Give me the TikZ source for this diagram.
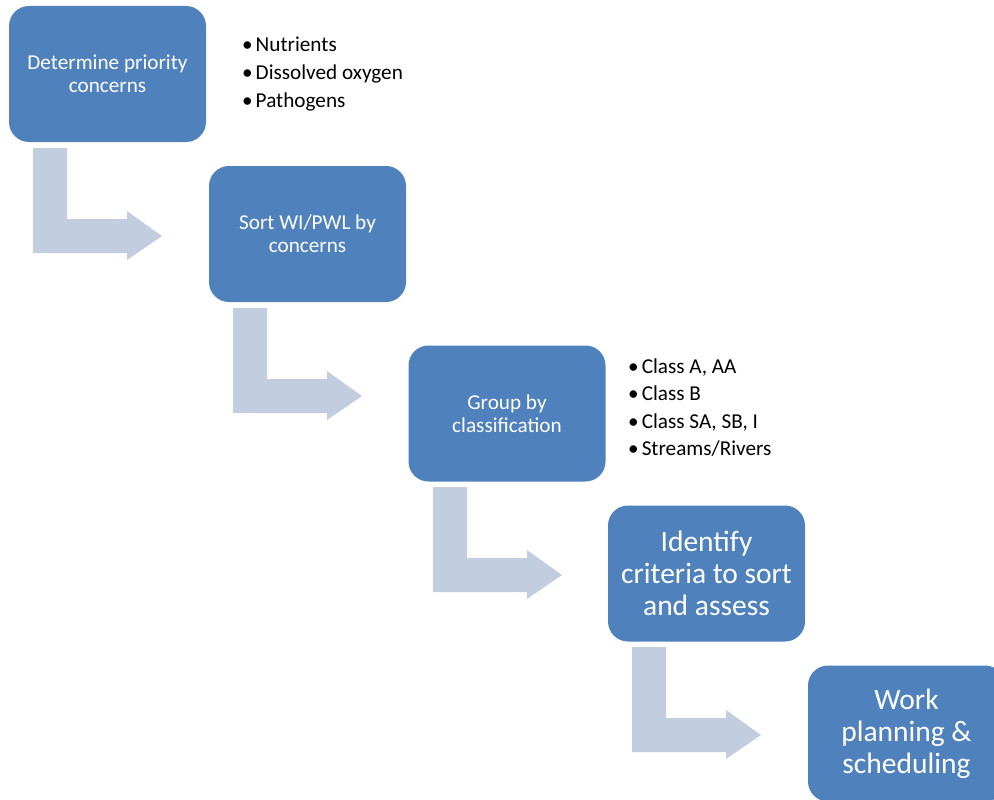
\documentclass[tikz,border=0pt]{standalone}
\usepackage{fontspec}
\setmainfont{Carlito}
\definecolor{boxblue}{HTML}{4F81BD}
\definecolor{arrowgray}{HTML}{C3CDE0}
\tikzset{
  stepbox/.style={fill=boxblue, draw=none, rounded corners=20pt, text=white,
    align=center, inner sep=0pt, minimum width=197pt, minimum height=136pt},
  smalltext/.style={font=\fontsize{21.2}{23}\selectfont},
  bigtext/.style={font=\fontsize{29.5}{32}\selectfont},
  bulletitem/.style={anchor=base west, inner sep=0pt,
    font=\fontsize{21.2}{28}\selectfont},
  bentarrow/.style={fill=arrowgray, draw=none}
}
\newcommand{\bentarr}[2]{%
  \fill[bentarrow, shift={(#1,#2)}] (0,0) -- (34,0) -- (34,71) -- (94,71) -- (94,63)
    -- (129,88) -- (94,112) -- (94,105) -- (0,105) -- cycle;}
\newcommand{\bul}{•\hspace{3pt}}
\begin{document}
\begin{tikzpicture}[x=1pt,y=-1pt]
\useasboundingbox (0,0) rectangle (994,800);
\node[stepbox, smalltext] (b1) at (107.5,74) {Determine priority\\concerns};
\node[stepbox, smalltext] (b2) at (307.5,234) {Sort WI/PWL by\\concerns};
\node[stepbox, smalltext] (b3) at (507,413.5) {Group by\\classification};
\node[stepbox, bigtext] (b4) at (706.5,573.5) {Identify\\criteria to sort\\and assess};
\node[stepbox, bigtext] (b5) at (906.5,733.5) {Work\\planning \&\\scheduling};
\node[bulletitem] (n1) at (242,51.5) {\bul Nutrients};
\node[bulletitem] (n2) at (242,79.5) {\bul Dissolved oxygen};
\node[bulletitem] (n3) at (242,107.5) {\bul Pathogens};
\node[bulletitem] (c1) at (628,373) {\bul Class A, AA};
\node[bulletitem] (c2) at (628,400.5) {\bul Class B};
\node[bulletitem] (c3) at (628,428) {\bul Class SA, SB, I};
\node[bulletitem] (c4) at (628,455.5) {\bul Streams/Rivers};
\bentarr{33}{148}
\bentarr{233}{308}
\bentarr{433}{487}
\bentarr{632}{647}
\end{tikzpicture}
\end{document}
